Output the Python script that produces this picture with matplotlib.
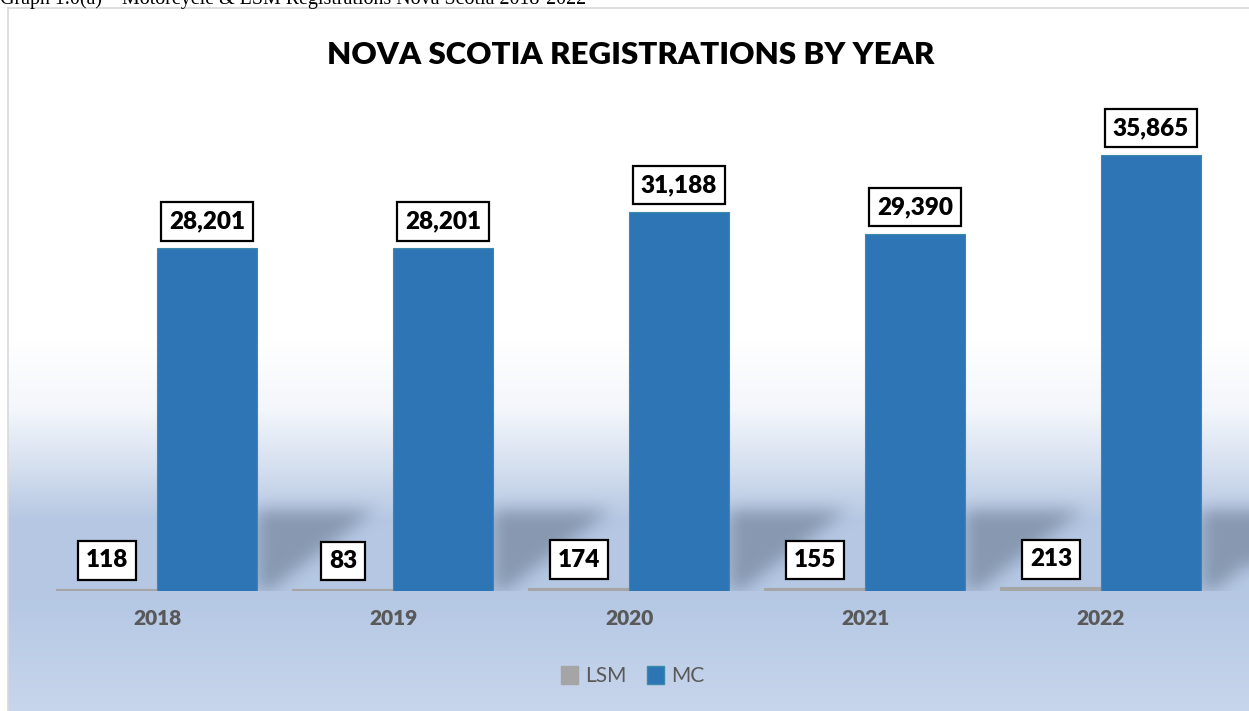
import numpy as np
import matplotlib
matplotlib.use("Agg")
import matplotlib.pyplot as plt
from matplotlib.path import Path
from matplotlib.patches import Patch

years = ["2018", "2019", "2020", "2021", "2022"]
lsm = [118, 83, 174, 155, 213]
mc = [28201, 28201, 31188, 29390, 35865]

W, H = 1249, 711
fig = plt.figure(figsize=(W / 100, H / 100), dpi=100)
fig.patch.set_facecolor("white")

# caption above the chart, cut off by the page edge as in the source
fig.text(0.0, 1 - 4 / H, "Graph 1.0(a) \u2013 Motorcycle & LSM Registrations Nova Scotia 2018-2022",
         family="Liberation Serif", fontsize=14.4, va="baseline", ha="left", color="black")

# background panel
bg = fig.add_axes([8 / W, 0, 1 - 8 / W, (H - 8) / H], zorder=0)
ax = fig.add_axes([39 / W, (H - 591) / H, 1180 / W, 486 / H], zorder=1)
ax.set_xlim(-0.5, 4.5)
ax.set_ylim(0, 40000)
ax.patch.set_alpha(0)

w = 0.424
x = np.arange(len(years))

# gradient rows
ph, pw = H - 8, W - 8
rows = np.arange(ph) + 8
stops_y = [8, 340, 410, 465, 520, 600, 711]
stops_c = np.array([[255, 255, 255], [255, 255, 255], [243, 246, 251], [214, 224, 239],
                    [181, 199, 227], [181, 200, 228], [200, 214, 236]]) / 255
img = np.stack([np.interp(rows, stops_y, stops_c[:, k]) for k in range(3)], axis=1)
img = np.repeat(img[:, None, :], pw, axis=1)

# soft shadow behind each MC bar
hs = 6700
dx = 0.5
gx, gy = np.meshgrid(np.arange(pw) + 8.5, np.arange(ph) + 8.5)
pts = np.column_stack([gx.ravel(), (H - gy).ravel()])
mask = np.zeros(ph * pw)
for i in x:
    xr = i + w
    poly = np.array([[xr, 0], [xr, hs], [xr + dx, hs], [xr + 0.05, 0], [xr, 0]])
    disp = ax.transData.transform(poly)
    mask = np.maximum(mask, Path(disp).contains_points(pts).astype(float))
mask = mask.reshape(ph, pw)


def box_blur(a, r):
    p = np.pad(a, ((r + 1, r), (0, 0)), mode="edge")
    c = np.cumsum(p, axis=0)
    a = (c[2 * r + 1:] - c[:-2 * r - 1]) / (2 * r + 1)
    p = np.pad(a, ((0, 0), (r + 1, r)), mode="edge")
    c = np.cumsum(p, axis=1)
    return (c[:, 2 * r + 1:] - c[:, :-2 * r - 1]) / (2 * r + 1)


m = box_blur(box_blur(mask, 9), 9)
m[591 - 8:, :] = 0
shadow = np.array([108, 124, 146]) / 255
a = 0.62 * m[:, :, None]
img = img * (1 - a) + shadow * a

bg.imshow(img, aspect="auto", extent=[0, 1, 0, 1], interpolation="bilinear")
bg.set_xlim(0, 1)
bg.set_ylim(0, 1)
bg.set_xticks([])
bg.set_yticks([])
for s in ["right", "bottom"]:
    bg.spines[s].set_visible(False)
for s in ["left", "top"]:
    bg.spines[s].set_color("#d9d9d9")
    bg.spines[s].set_linewidth(1.2)

# bars
ax.bar(x - w / 2, lsm, w, color="#a5a5a5", edgecolor="#a5a5a5", linewidth=1.5, zorder=2)
ax.bar(x + w / 2, mc, w, color="#2e75b6", edgecolor="#3a8aa8", linewidth=0.8, zorder=2)

box = dict(boxstyle="square,pad=0.34", facecolor="white", edgecolor="black", linewidth=1.6)
for i in x:
    ax.annotate(f"{lsm[i]:,}", (i - w / 2, lsm[i]), xytext=(0, 21), textcoords="offset points",
                ha="center", va="center", fontsize=17.5, fontweight="heavy", family="Lato",
                bbox=box, zorder=3)
    ax.annotate(f"{mc[i]:,}", (i + w / 2, mc[i]), xytext=(0, 19.5), textcoords="offset points",
                ha="center", va="center", fontsize=17.5, fontweight="heavy", family="Lato",
                bbox=box, zorder=3)

ax.set_xticks(x)
ax.set_xticklabels(years, fontsize=15, fontweight="heavy", family="Lato", color="#595959")
ax.tick_params(axis="x", length=0, pad=13)
ax.set_yticks([])
for s in ax.spines.values():
    s.set_visible(False)

fig.text(631 / W, 1 - 55 / H, "NOVA SCOTIA REGISTRATIONS BY YEAR", ha="center", va="center",
         fontsize=22.5, fontweight="heavy", family="Lato", color="black")

handles = [Patch(facecolor="#a5a5a5", edgecolor="#a5a5a5", label="LSM"),
           Patch(facecolor="#2e75b6", edgecolor="#3a8aa8", label="MC")]
leg = fig.legend(handles=handles, loc="center", bbox_to_anchor=(633 / W, 1 - 676 / H), ncol=2,
                 frameon=False, handlelength=0.8, handleheight=1.0, handletextpad=0.35,
                 columnspacing=1.0, prop={"family": "Lato", "size": 15})
for t in leg.get_texts():
    t.set_color("#595959")

fig.savefig("out.png", dpi=100)
